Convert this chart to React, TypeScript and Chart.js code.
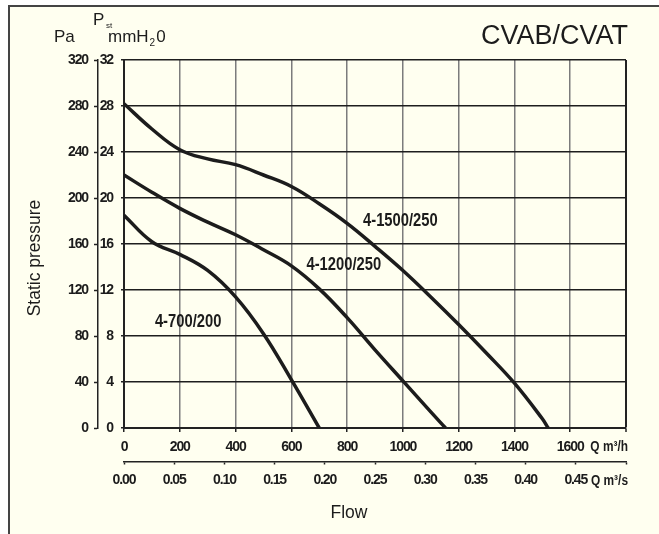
import React, { useEffect, useRef } from "react";
import { Chart, registerables } from "chart.js";

Chart.register(...registerables);

// ---- data (flow in m³/h, static pressure in Pa) ----
const flow1500 = [0, 100, 200, 300, 400, 500, 600, 700, 800, 900, 1000, 1100, 1200, 1300, 1400, 1500, 1521];
const pa1500 = [282, 260, 242, 234, 229, 220, 210, 195, 178, 158, 137, 114, 90, 65, 39, 8, 0];

const flow1200 = [0, 100, 200, 300, 400, 500, 600, 700, 800, 900, 1000, 1100, 1153];
const pa1200 = [220, 205, 191, 179, 168, 155, 141, 121, 96, 68, 41, 14, 0];

const flow700 = [0, 100, 200, 300, 400, 500, 600, 700];
const pa700 = [185, 162, 151, 137, 114, 82, 42, 0];

const seriesNames = ["4-1500/250", "4-1200/250", "4-700/200"];
const labelFlow = [991, 788, 230];
const labelPa = [180, 142, 92];

const flowTicksMax = 1800; // m³/h
const flowSecMax = 0.5; // m³/s
const mmMax = 32;
const paMax = 320;

const REG = "'Liberation Sans', Arial, Helvetica, sans-serif";
const INK = "#1c1c1c";

const toPts = (xs: number[], ys: number[]) => xs.map((x, i) => ({ x, y: ys[i] }));

function narrowText(ctx: CanvasRenderingContext2D, text: string, x: number, y: number, size: number) {
  ctx.save();
  ctx.translate(x, y);
  ctx.scale(0.82, 1);
  ctx.font = `bold ${size}px ${REG}`;
  ctx.fillText(text, 0, 0);
  ctx.restore();
}

const annotate = {
  id: "annotate",
  beforeDraw(chart: any) {
    (chart.ctx as any).letterSpacing = "-1.1px";
  },
  afterDraw(chart: any) {
    const ctx = chart.ctx as CanvasRenderingContext2D;
    (ctx as any).letterSpacing = "0px";
    const area = chart.chartArea;
    const xS = chart.scales.x;
    const yS = chart.scales.yPa;
    ctx.save();
    ctx.fillStyle = INK;

    // title
    ctx.font = `27px ${REG}`;
    ctx.textAlign = "right";
    ctx.textBaseline = "alphabetic";
    ctx.fillText("CVAB/CVAT", 628, 44);

    // units header
    ctx.textAlign = "left";
    ctx.font = `17px ${REG}`;
    ctx.fillText("Pa", 54, 42);
    ctx.fillText("P", 93, 25);
    ctx.font = `8px ${REG}`;
    ctx.fillText("st", 106, 28);
    ctx.font = `17px ${REG}`;
    let cx = 108;
    ctx.fillText("mmH", cx, 42);
    cx += ctx.measureText("mmH").width + 1;
    ctx.font = `10px ${REG}`;
    ctx.fillText("2", cx, 46);
    cx += ctx.measureText("2").width + 1;
    ctx.font = `17px ${REG}`;
    ctx.fillText("0", cx, 42);

    // y title
    ctx.save();
    ctx.translate(35.5, 258);
    ctx.rotate(-Math.PI / 2);
    ctx.textAlign = "center";
    ctx.textBaseline = "middle";
    ctx.font = `17.5px ${REG}`;
    ctx.fillText("Static pressure", 0, 0);
    ctx.restore();

    // x title
    ctx.textAlign = "center";
    ctx.textBaseline = "alphabetic";
    ctx.font = `17.5px ${REG}`;
    ctx.fillText("Flow", 349, 518);

    // unit labels at axis ends
    ctx.textAlign = "right";
    ctx.textBaseline = "middle";
    narrowText(ctx, "Q m³/h", area.right + 2, 447, 14.5);
    narrowText(ctx, "Q m³/s", area.right + 2, 480.5, 14.5);

    // curve labels
    ctx.textAlign = "center";
    seriesNames.forEach((n, i) => {
      narrowText(ctx, n, xS.getPixelForValue(labelFlow[i]), yS.getPixelForValue(labelPa[i]), 18);
    });
    ctx.restore();
  },
};

export default function App() {
  const ref = useRef<HTMLCanvasElement | null>(null);

  useEffect(() => {
    if (!ref.current) return;
    const tickFont = { family: REG, size: 14, weight: "bold" as const, lineHeight: 1 };
    const lineDs = (pts: any[]) => ({
      data: pts,
      borderColor: INK,
      borderWidth: 3.5,
      pointRadius: 0,
      fill: false,
      tension: 0.4,
      xAxisID: "x",
      yAxisID: "yPa",
    });
    const chart = new Chart(ref.current, {
      type: "line",
      data: {
        datasets: [
          lineDs(toPts(flow1500, pa1500)),
          lineDs(toPts(flow1200, pa1200)),
          lineDs(toPts(flow700, pa700)),
        ],
      },
      options: {
        animation: false,
        responsive: false,
        events: [],
        layout: { padding: { left: 0, top: 60, right: 33, bottom: 32.5 } },
        plugins: { legend: { display: false }, tooltip: { enabled: false } },
        scales: {
          x: {
            type: "linear",
            position: "bottom",
            weight: 0,
            min: 0,
            max: flowTicksMax,
            ticks: {
              stepSize: 200,
              autoSkip: false,
              maxRotation: 0,
              padding: 8,
              color: INK,
              font: tickFont,
              callback: (v: any) => (Number(v) >= flowTicksMax ? "" : String(v)),
            },
            grid: {
              color: (c: any) => (c.tick && c.tick.value >= flowTicksMax ? "#222" : "#7c7c7c"),
              lineWidth: (c: any) => (c.tick && c.tick.value >= flowTicksMax ? 2 : 1.5),
              tickLength: 4,
              tickColor: "#222",
              tickWidth: 1.5,
            },
            border: { color: "#222", width: 2 },
            afterFit: (s: any) => {
              s.height = 33.5;
            },
          },
          xs: {
            type: "linear",
            position: "bottom",
            weight: 1,
            min: 0,
            max: flowSecMax,
            ticks: {
              stepSize: 0.05,
              autoSkip: false,
              maxRotation: 0,
              padding: 8.5,
              color: INK,
              font: tickFont,
              callback: (v: any) => (Number(v) >= flowSecMax - 1e-9 ? "" : Number(v).toFixed(2)),
            },
            grid: {
              drawOnChartArea: false,
              tickLength: 3,
              tickColor: "#222",
              tickWidth: 1.5,
            },
            border: { color: "#222", width: 1.5 },
            afterFit: (s: any) => {
              s.height = 40;
            },
          },
          y: {
            type: "linear",
            position: "left",
            weight: 0,
            min: 0,
            max: mmMax,
            ticks: { stepSize: 4, padding: 8, color: INK, font: tickFont },
            grid: { color: "#1e1e1e", lineWidth: 1.5, tickLength: 3, tickColor: "#222", tickWidth: 1.5 },
            border: { color: "#222", width: 2 },
            afterFit: (s: any) => {
              s.width = 26;
            },
          },
          yPa: {
            type: "linear",
            position: "left",
            weight: 1,
            min: 0,
            max: paMax,
            ticks: { stepSize: 40, padding: 6, color: INK, font: tickFont },
            grid: { drawOnChartArea: false, tickLength: 4, tickColor: "#222", tickWidth: 1.5 },
            border: { color: "#222", width: 1.5 },
            afterFit: (s: any) => {
              s.width = 98;
            },
          },
        },
      },
      plugins: [annotate],
    });
    return () => chart.destroy();
  }, []);

  return (
    <div style={{ position: "absolute", left: 0, top: 0, width: 659, height: 534, overflow: "hidden", background: "#ffffff" }}>
      <div
        style={{
          position: "absolute",
          left: 8,
          top: 5,
          width: 700,
          height: 600,
          background: "#fffff0",
          borderTop: "2px solid #444",
          borderLeft: "2px solid #444",
        }}
      />
      <canvas ref={ref} width={659} height={534} style={{ position: "absolute", left: 0, top: 0 }} />
    </div>
  );
}
